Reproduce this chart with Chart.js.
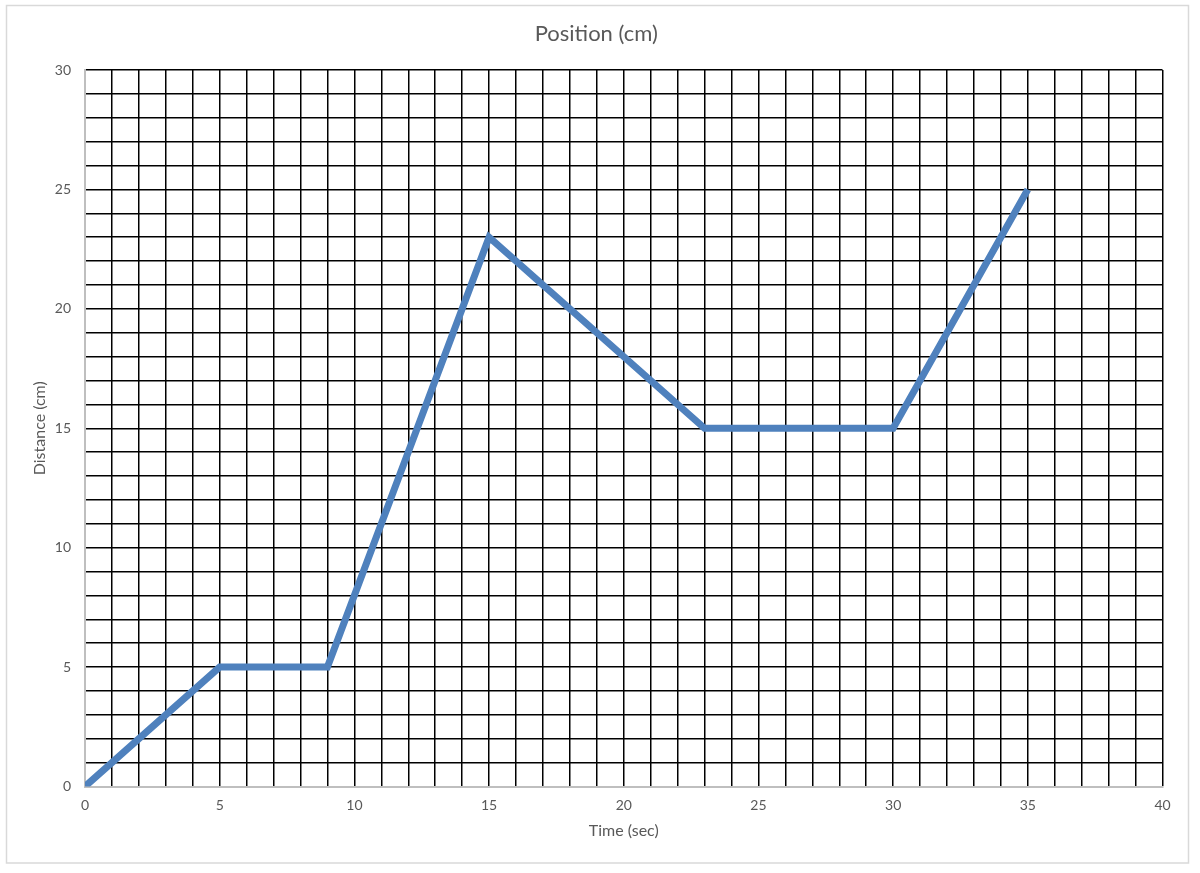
<!DOCTYPE html>
<html>
<head>
<meta charset="utf-8">
<script src="https://cdn.jsdelivr.net/npm/chart.js@4/dist/chart.umd.min.js"></script>
<style>
html,body{margin:0;padding:0;background:#fff;}
#wrap{position:absolute;left:0;top:0;width:1200px;height:873px;}
</style>
</head>
<body>
<div id="wrap"><canvas id="c" width="1200" height="873"></canvas></div>
<script>
const timeSec = [0, 5, 9, 15, 23, 30, 35];
const distanceCm = [0, 5, 5, 23, 15, 15, 25];
const chartTitle = 'Position (cm)';
const xAxisTitle = 'Time (sec)';
const yAxisTitle = 'Distance (cm)';
const xMin = 0, xMax = 40, yMin = 0, yMax = 30, labelEvery = 5;

const textColor = '#595959';
const fontFamily = 'Lato, "Open Sans", sans-serif';

const frame = {
  id: 'frame',
  beforeDraw(chart) {
    const ctx = chart.ctx;
    ctx.save();
    ctx.fillStyle = '#fff';
    ctx.fillRect(0, 0, chart.width, chart.height);
    ctx.strokeStyle = '#d9d9d9';
    ctx.lineWidth = 1.5;
    ctx.strokeRect(6.5, 5.5, 1182, 857.5);
    ctx.restore();
  }
};

new Chart(document.getElementById('c'), {
  type: 'line',
  data: {
    datasets: [{
      data: timeSec.map((t, i) => ({x: t, y: distanceCm[i]})),
      borderColor: '#4f81bd',
      borderWidth: 7,
      pointRadius: 0,
      fill: false,
      tension: 0,
      clip: 0,
      borderJoinStyle: 'miter'
    }]
  },
  plugins: [frame],
  options: {
    responsive: false,
    animation: false,
    devicePixelRatio: 1,
    layout: { padding: { left: 30, right: 37.5, top: 10, bottom: 32.4 } },
    plugins: {
      legend: { display: false },
      tooltip: { enabled: false },
      title: {
        display: true,
        text: chartTitle,
        color: textColor,
        font: { family: fontFamily, size: 22, weight: 'normal' },
        padding: { top: 10.8, bottom: 22.8 }
      }
    },
    scales: {
      x: {
        type: 'linear',
        min: xMin, max: xMax,
        afterFit(s) { s.height = 54.1; },
        border: { color: '#bfbfbf', width: 2 },
        grid: {
          color: (c) => (c.index === 0 ? '#bfbfbf' : '#000'),
          lineWidth: 1.5,
          drawTicks: false
        },
        ticks: {
          stepSize: 1,
          autoSkip: false,
          maxRotation: 0,
          padding: 11,
          color: textColor,
          font: { family: fontFamily, size: 14 },
          callback: (v) => (v % labelEvery === 0 ? String(v) : '')
        },
        title: {
          display: true,
          text: xAxisTitle,
          color: textColor,
          font: { family: fontFamily, size: 16 },
          padding: 0
        }
      },
      y: {
        type: 'linear',
        min: yMin, max: yMax,
        afterFit(s) { s.width = 55; },
        border: { color: '#bfbfbf', width: 2 },
        grid: {
          color: (c) => (c.index === 0 ? '#bfbfbf' : '#000'),
          lineWidth: 1.5,
          drawTicks: false
        },
        ticks: {
          stepSize: 1,
          autoSkip: false,
          padding: 14,
          color: textColor,
          font: { family: fontFamily, size: 14 },
          callback: (v) => (v % labelEvery === 0 ? String(v) : '')
        },
        title: {
          display: true,
          text: yAxisTitle,
          color: textColor,
          font: { family: fontFamily, size: 16 },
          padding: 0
        }
      }
    }
  }
});
</script>
</body>
</html>
